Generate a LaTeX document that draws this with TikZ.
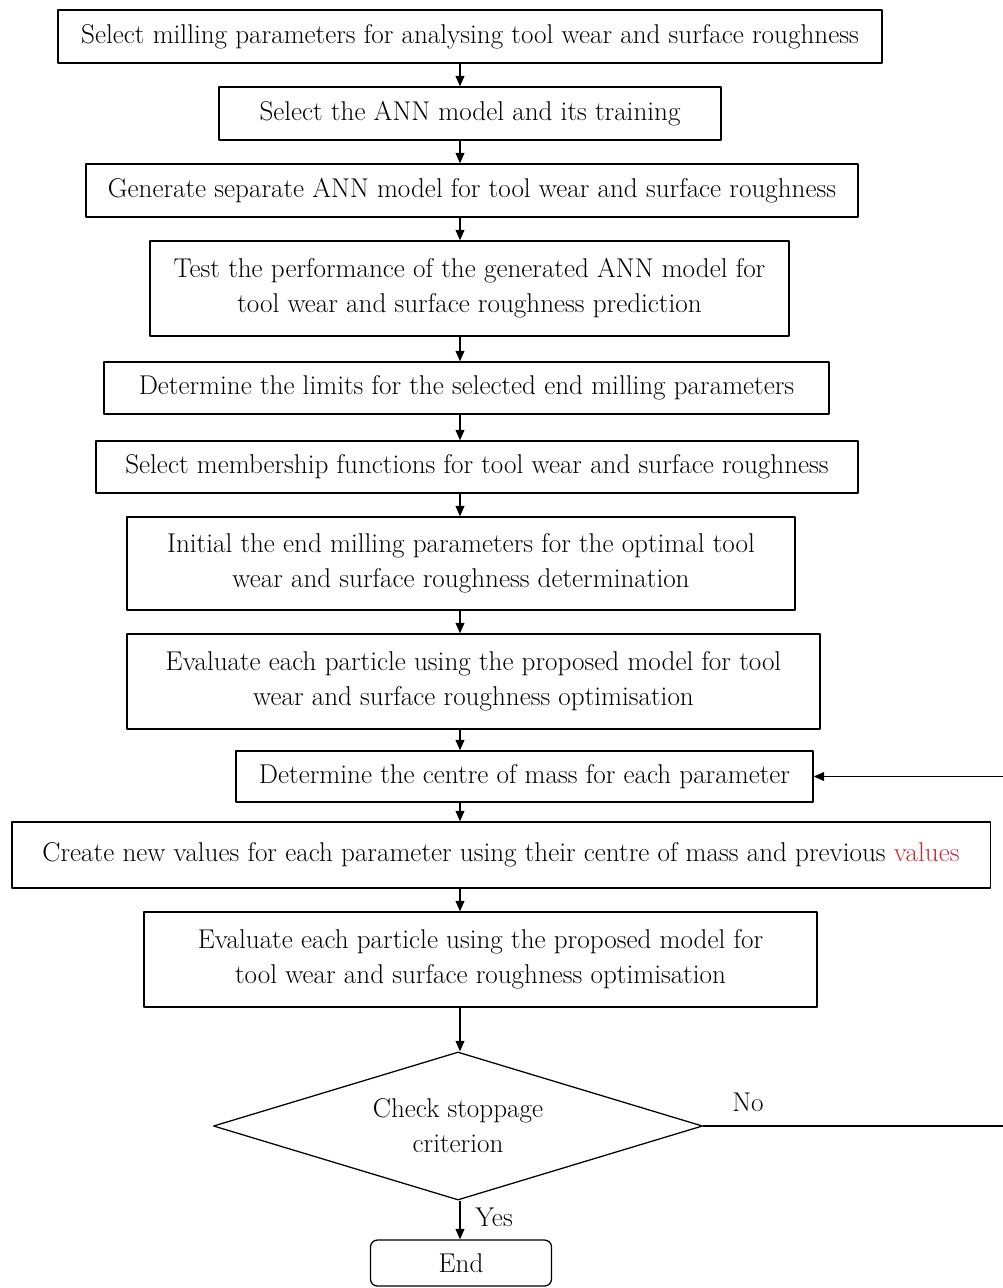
\documentclass[tikz,border=0pt]{standalone}
\usetikzlibrary{shapes.geometric,arrows.meta}
\definecolor{valred}{RGB}{204,40,52}
\tikzset{
	stepbox/.style={draw, line width=0.9pt, align=center, inner sep=0pt},
	arr/.style={->, line width=0.9pt}
}
\begin{document}
\begin{tikzpicture}[x=0.025cm, y=-0.025cm, font=\fontsize{19.3}{25}\selectfont, line join=round, >={Triangle[length=2.6mm,width=2.2mm]}]
			\useasboundingbox (0,0) rectangle (1003,1288);
			\node[stepbox, minimum width=20.6cm, minimum height=1.325cm] (b1) at (470,36.5) {Select milling parameters for analysing tool wear and surface roughness};
			\node[stepbox, minimum width=12.55cm, minimum height=1.325cm] (b2) at (470,113.5) {Select the ANN model and its training};
			\node[stepbox, minimum width=19.3cm, minimum height=1.325cm] (b3) at (472,190.5) {Generate separate ANN model for tool wear and surface roughness};
			\node[stepbox, minimum width=15.975cm, minimum height=2.375cm] (b4) at (469.5,288.5) {Test the performance of the generated ANN model for\\tool wear and surface roughness prediction};
			\node[stepbox, minimum width=18.125cm, minimum height=1.3cm] (b5) at (466.5,388) {Determine the limits for the selected end milling parameters};
			\node[stepbox, minimum width=19.05cm, minimum height=1.3cm] (b6) at (477,467) {Select membership functions for tool wear and surface roughness};
			\node[stepbox, minimum width=16.7cm, minimum height=2.325cm] (b7) at (461,563.5) {Initial the end milling parameters for the optimal tool\\wear and surface roughness determination};
			\node[stepbox, minimum width=17.325cm, minimum height=2.375cm] (b8) at (473.5,681.5) {Evaluate each particle using the proposed model for tool\\wear and surface roughness optimisation};
			\node[stepbox, minimum width=14.425cm, minimum height=1.275cm] (b9) at (524.5,776.5) {Determine the centre of mass for each parameter};
			\node[stepbox, minimum width=24.45cm, minimum height=1.65cm] (b10) at (501,855) {Create new values for each parameter using their centre of mass and previous \textcolor{valred}{values}};
			\node[stepbox, minimum width=16.825cm, minimum height=2.375cm] (b11) at (480.5,959.5) {Evaluate each particle using the proposed model for\\tool wear and surface roughness optimisation};
			\node[stepbox, diamond, aspect=3.3, minimum width=12.225cm, minimum height=3.7cm] (chk) at (458,1126) {Check stoppage\\criterion};
			\node[stepbox, rounded corners=5pt, minimum width=4.525cm, minimum height=1.15cm] (stop) at (461,1263) {End};
			\coordinate (ax) at (460,0);
			\coordinate (rt) at (1012,0);
			\foreach \a/\b in {b1/b2,b2/b3,b3/b4,b4/b5,b5/b6,b6/b7,b7/b8,b8/b9,b9/b10,b10/b11,b11/chk,chk/stop}
				\draw[arr] (\a.south -| ax) -- (\b.north -| ax);
			\draw[arr] (chk.east) -- (chk.east -| rt) -- (b9.east -| rt) -- (b9.east);
			\node (no) at (748,1102) {No};
			\node (yes) at (494,1217) {Yes};
			\end{tikzpicture}
\end{document}
